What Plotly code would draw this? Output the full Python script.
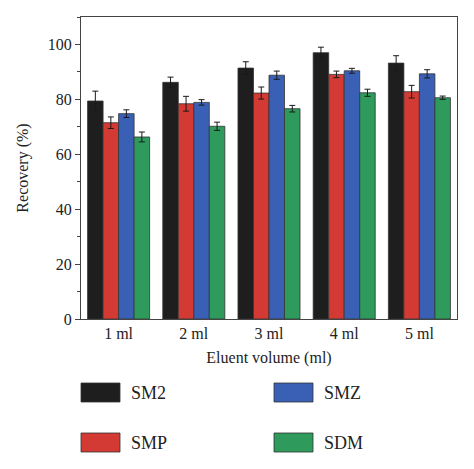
import plotly.graph_objects as go

categories = ["1 ml", "2 ml", "3 ml", "4 ml", "5 ml"]
series_names = ["SM2", "SMP", "SMZ", "SDM"]
sm2 = [79.4, 86.2, 91.4, 97.0, 93.2]
sm2_err = [3.6, 1.9, 2.3, 2.0, 2.7]
smp = [71.5, 78.4, 82.3, 89.1, 82.8]
smp_err = [2.1, 2.7, 2.2, 1.2, 2.3]
smz = [74.8, 78.9, 88.8, 90.4, 89.3]
smz_err = [1.4, 1.0, 1.5, 0.9, 1.5]
sdm = [66.3, 70.2, 76.6, 82.4, 80.6]
sdm_err = [1.8, 1.5, 1.2, 1.3, 0.6]
y_ticks = [0, 20, 40, 60, 80, 100]

colors = ["#1e1e1e", "#d33a34", "#3a60b5", "#2e9a5c"]
values = [sm2, smp, smz, sdm]
errors = [sm2_err, smp_err, smz_err, sdm_err]

FONT = "Liberation Serif"
OFF = 8  # page body offset
W, H = 474 - OFF, 469 - OFF
L, R, T, B = 81 - OFF, 17, 17 - OFF, 150

fig = go.Figure()
for name, vals, errs, col in zip(series_names, values, errors, colors):
    fig.add_trace(go.Bar(
        name=name, x=categories, y=vals,
        marker=dict(color=col, line=dict(color="#333333", width=0.8)),
        error_y=dict(type="data", array=errs, visible=True,
                     color="#1a1a1a", thickness=1, width=3),
        showlegend=False,
    ))

# custom legend (large swatches), positions given in page pixels
pw = W - L - R
ph = H - T - B
def px(xp):
    return (xp - OFF - L) / pw
def py(yp):
    return (H - B - (yp - OFF)) / ph

legend_pos = {"SM2": (81, 383), "SMZ": (274, 383), "SMP": (81, 433), "SDM": (274, 433)}
shapes = []
annotations = []
for name, col in zip(series_names, colors):
    x0, y0 = legend_pos[name]
    shapes.append(dict(type="rect", xref="paper", yref="paper",
                       x0=px(x0), x1=px(x0 + 39), y0=py(y0), y1=py(y0 + 19),
                       fillcolor=col, line=dict(color="#333333", width=0.8)))
    annotations.append(dict(xref="paper", yref="paper", x=px(x0 + 48), y=py(y0 + 9.5),
                            text=name, showarrow=False, xanchor="left", yanchor="middle",
                            font=dict(family=FONT, size=18, color="#222222")))

fig.update_layout(
    width=W, height=H,
    margin=dict(l=L, r=R, t=T, b=B),
    paper_bgcolor="white", plot_bgcolor="white",
    barmode="group", bargap=0.175, bargroupgap=0,
    font=dict(family=FONT, size=15, color="#222222"),
    shapes=shapes, annotations=annotations,
)
fig.update_xaxes(
    showline=True, linecolor="#444444", linewidth=1, mirror=True,
    ticks="", showgrid=False,
    tickfont=dict(family=FONT, size=16, color="#222222"),
    title=dict(text="Eluent volume (ml)", standoff=10,
               font=dict(family=FONT, size=16, color="#222222")),
)
fig.update_yaxes(
    range=[0, 110], tickvals=y_ticks,
    showline=True, linecolor="#444444", linewidth=1, mirror=True,
    ticks="outside", ticklen=5, tickcolor="#444444",
    minor=dict(dtick=10, ticks="outside", ticklen=3, tickcolor="#444444"),
    showgrid=False, zeroline=False,
    tickfont=dict(family=FONT, size=16, color="#222222"),
    title=dict(text="Recovery (%)", standoff=15,
               font=dict(family=FONT, size=16, color="#222222")),
)

fig.write_html("out.html")
